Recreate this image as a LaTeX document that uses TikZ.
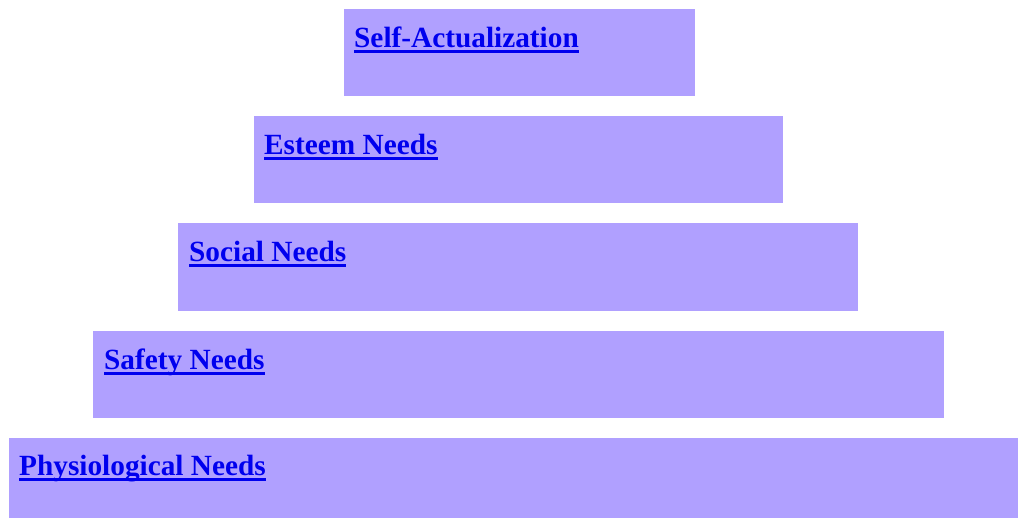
\documentclass[tikz,border=0pt]{standalone}
\usepackage{fontspec}
\setmainfont{Liberation Serif}
\definecolor{boxfill}{RGB}{176,160,255}
\definecolor{linkblue}{RGB}{0,0,238}
\tikzset{
  tier/.style={fill=boxfill, draw=none, anchor=north west, inner sep=0pt},
  tierlabel/.style={anchor=base west, inner sep=0pt, text=linkblue,
    font=\fontsize{29.3}{34}\selectfont\bfseries}
}
\newsavebox{\lnkbox}
\newcommand{\lnk}[1]{\sbox{\lnkbox}{#1}\rlap{\usebox{\lnkbox}}\rule[-5.5pt]{\wd\lnkbox}{2.5pt}}
\begin{document}
\begin{tikzpicture}[x=1pt,y=-1pt]
\useasboundingbox (0,0) rectangle (1018,518);
\node[tier, minimum width=351pt, minimum height=87pt] (t1) at (344,9) {};
\node[tier, minimum width=529pt, minimum height=87pt] (t2) at (254,116) {};
\node[tier, minimum width=680pt, minimum height=88pt] (t3) at (178,223) {};
\node[tier, minimum width=851pt, minimum height=87pt] (t4) at (93,331) {};
\node[tier, minimum width=1009pt, minimum height=80pt] (t5) at (9,438) {};
\node[tierlabel] (l1) at ([xshift=10pt,yshift=-38.5pt]t1.north west) {\lnk{Self-Actualization}};
\node[tierlabel] (l2) at ([xshift=10pt,yshift=-38.5pt]t2.north west) {\lnk{Esteem Needs}};
\node[tierlabel] (l3) at ([xshift=11pt,yshift=-38.5pt]t3.north west) {\lnk{Social Needs}};
\node[tierlabel] (l4) at ([xshift=11pt,yshift=-38.5pt]t4.north west) {\lnk{Safety Needs}};
\node[tierlabel] (l5) at ([xshift=10pt,yshift=-37.5pt]t5.north west) {\lnk{Physiological Needs}};
\end{tikzpicture}
\end{document}
